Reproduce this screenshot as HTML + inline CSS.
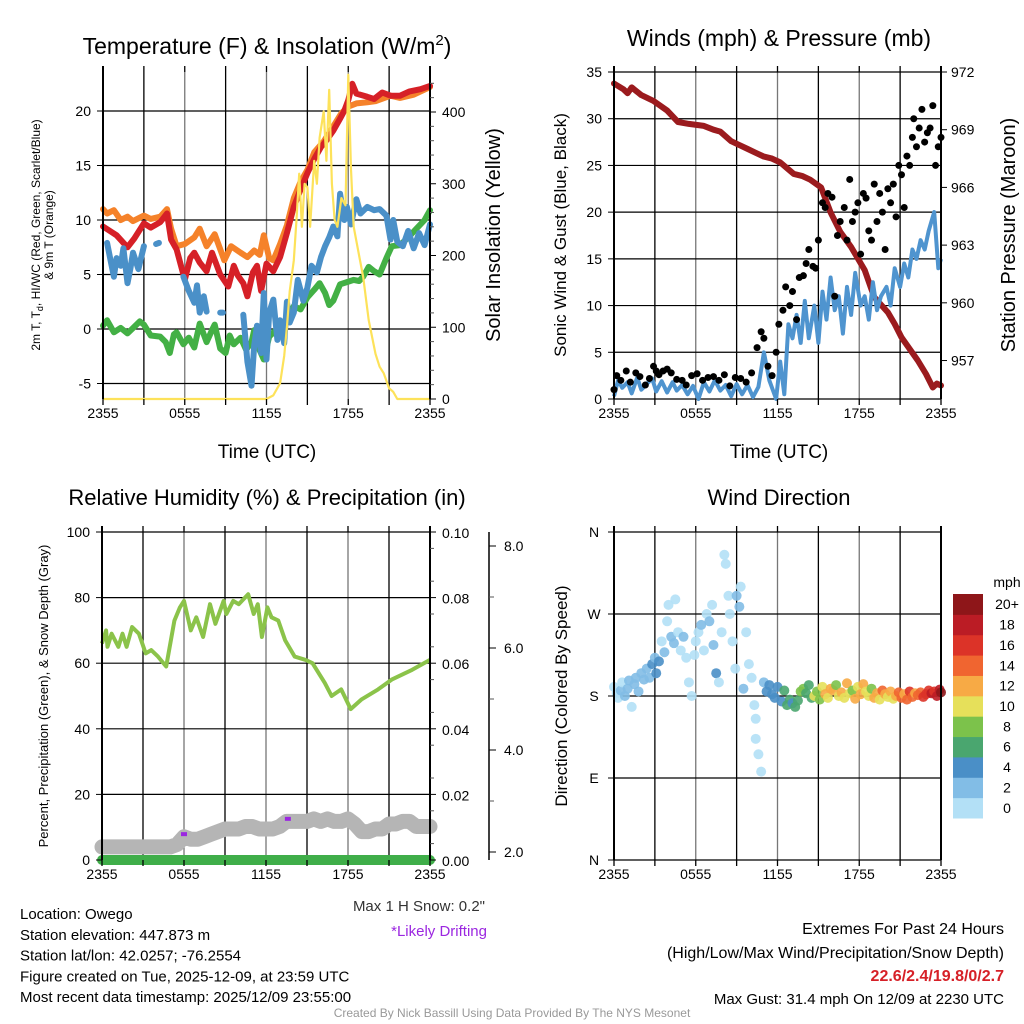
<!DOCTYPE html>
<html><head><meta charset="utf-8"><style>
body{margin:0;background:#fff}
svg{display:block;font-family:"Liberation Sans",Arial,sans-serif}
</style></head><body>
<svg id="c" width="1024" height="1024" viewBox="0 0 1024 1024"></svg>
<script>
// ---------- Panel 1 data (hours since 2355 UTC) ----------
const orangeH=[0,0.3,0.8,1.3,1.8,2.2,3.0,3.5,4.2,4.7,5.0,5.4,6.0,6.7,7.1,7.6,8.2,8.9,9.4,10.1,10.6,11.1,11.5,11.8,12.2,12.5,13.0,13.5,14.0,14.5,15.0,15.5,16.2,16.9,17.5,18.0,18.6,19.4,20.0,21.1,21.8,22.8,24];
const orangeV=[11,10.6,10.9,10.0,10.3,9.9,10.4,10.1,10.3,11.0,9.2,7.6,7.8,8.4,9.2,7.6,8.7,6.3,7.6,7.0,6.6,7.2,6.8,8.6,6.5,6.3,7.8,9.5,12.0,13.5,14.6,16.2,17.2,18.6,19.8,20.4,20.7,20.8,20.9,21.4,21.2,21.5,22.2];
const redH=[0,0.5,1.0,1.8,2.3,3.0,3.5,4.2,4.7,5.0,5.4,6.0,6.4,6.7,7.1,7.6,8.0,8.6,9.2,9.6,9.9,10.3,10.6,11.0,11.3,11.6,12.0,12.5,13.0,13.5,14.0,14.5,15.0,15.5,16.0,16.4,16.9,17.4,17.7,18.0,18.3,18.6,19.4,19.9,20.5,21.1,21.8,22.5,23.3,24];
const redV=[9.4,9.0,8.6,7.5,8.3,9.7,9.3,9.8,10.6,8.2,7.3,4.5,6.5,7.0,6.1,5.3,7.0,5.0,3.9,5.8,4.9,4.2,3.0,5.2,5.8,3.5,6.0,5.3,6.6,8.8,11.2,12.8,14.3,15.6,16.7,17.3,18.2,19.3,20.0,21.0,22.5,21.6,21.3,21.1,21.7,21.4,21.4,21.8,22.0,22.3];
const blueH=[0.3,0.6,0.8,1.0,1.3,1.5,1.8,2.0,2.2,2.6,3.0,null,3.9,4.1,null,5.9,6.3,6.7,6.9,7.1,7.4,7.6,null,8.6,8.8,null,10.3,10.6,10.9,11.1,11.3,11.6,11.8,12.0,12.2,12.5,12.8,13.0,13.3,13.5,13.7,14.0,14.3,14.7,15.0,15.3,15.7,16.0,16.3,16.6,16.9,17.2,17.4,17.7,17.9,18.2,18.6,18.9,19.4,19.9,20.3,20.8,21.1,21.3,21.6,22.0,22.4,22.8,23.2,23.6,24];
const blueV=[7.9,6.0,4.8,6.5,5.8,7.4,4.2,5.5,7.0,5.5,7.6,null,7.8,7.9,null,4.8,3.5,2.4,4.0,1.5,3.0,1.6,null,1.5,1.5,null,1.3,-3.0,-5.2,-1.5,0.3,-2.2,3.3,-2.8,1.5,2.7,-1.0,0.8,-1.3,2.5,0.6,1.5,4.5,2.6,3.8,5.8,5.2,6.6,7.6,8.4,9.4,8.5,12.4,10.0,11.2,9.6,11.9,10.6,11.2,10.9,11.0,10.4,8.2,10.0,8.0,7.6,9.0,7.4,8.8,7.7,9.6];
const greenH=[0,0.3,0.8,1.3,1.8,2.3,2.7,3.0,3.5,4.2,4.6,4.9,5.2,5.4,5.9,6.3,6.7,7.1,7.6,8.0,8.2,8.6,9.0,9.3,9.6,10.1,10.5,10.9,11.1,11.3,11.8,12.2,12.6,13.0,13.5,14.0,14.5,15.0,15.5,15.9,16.3,16.6,16.9,17.4,17.9,18.4,18.8,19.1,19.5,19.9,20.3,20.8,21.2,21.8,22.4,23.0,23.6,24];
const greenV=[0.3,0.8,-0.3,0.1,-0.4,0.2,0.7,0.4,-0.6,-0.7,-1.2,-2.2,-0.5,-0.3,-1.4,-0.8,-1.7,0.5,-1.2,-0.1,0.4,-1.8,-2.2,-0.6,-1.4,-0.8,-1.9,-1.2,-0.1,-1.4,-2.8,-0.7,-0.2,0.2,0.9,2.1,1.8,2.9,3.6,4.2,3.3,2.2,2.6,4.1,4.3,4.5,4.4,4.8,5.7,5.3,5.0,6.5,7.6,7.7,8.4,9.2,10.0,10.9];
const insolH=[0,12.0,12.5,13.0,13.3,13.5,13.7,14.0,14.2,14.4,14.6,14.8,15.0,15.2,15.5,15.7,15.9,16.2,16.4,16.6,16.8,17.0,17.2,17.5,17.8,18.0,18.2,18.4,18.8,19.1,19.5,20.0,20.3,20.6,21.0,21.3,21.6,24];
const insolV=[0,0,5,22,60,100,150,193,250,314,240,300,295,240,332,300,364,401,332,431,300,250,240,280,270,452,320,240,200,170,110,63,45,36,15,10,0,0];
// ---------- Panel 2 data ----------
const presH=[0,0.7,1.0,1.3,2.0,2.9,3.9,4.7,5.5,6.6,7.3,7.8,8.6,9.2,9.8,10.4,11.0,11.6,12.2,12.7,13.2,13.8,14.4,15.2,15.9,16.6,17.4,18.4,19.1,19.6,20.1,20.6,21.1,21.7,22.3,22.9,23.4,23.7,24];
const presV=[971.4,971.1,970.9,971.2,970.8,970.5,970.0,969.4,969.3,969.2,969.0,968.9,968.4,968.2,968.0,967.8,967.6,967.5,967.3,967.0,966.7,966.6,966.4,966.0,964.7,963.7,962.9,961.7,960.3,959.9,959.5,958.9,958.2,957.6,957.0,956.3,955.6,955.8,955.7];
const windH=[0,0.3,0.6,1.0,1.3,1.7,2.0,2.4,2.8,3.1,3.5,3.9,4.3,4.6,5.0,5.4,5.8,6.2,6.6,7.0,7.4,7.8,8.2,8.6,9.0,9.4,9.8,10.2,10.6,11.0,11.4,11.9,12.2,12.5,12.8,13.1,13.4,13.7,14.0,14.3,14.7,15.0,15.3,15.6,15.9,16.2,16.5,16.8,17.1,17.4,17.7,18.1,18.4,18.7,19.0,19.3,19.6,20.0,20.3,20.6,21.0,21.3,21.6,21.9,22.2,22.5,22.8,23.1,23.5,23.8,24];
const windV=[0.3,2.0,1.2,1.8,0.6,2.3,1.0,1.6,2.2,0.8,1.9,0.7,1.8,0.9,1.5,0.5,1.4,0.0,1.8,0.8,2.0,0.9,1.5,0.3,1.6,0.5,1.5,0.2,1.3,5.0,2.0,0.0,4.0,0.5,8.0,6.5,9.0,6.0,10.5,6.5,10.0,6.0,11.5,8.5,13.0,9.5,11.0,7.0,12.0,9.0,13.5,10.0,11.0,8.5,12.5,9.5,11.0,12.0,10.0,14.0,12.0,14.5,13.0,16.0,15.0,17.0,16.0,18.0,20.0,14.0,15.0];
const gustH=[0,0.2,0.5,0.9,1.2,1.6,1.9,2.3,2.6,2.9,3.1,3.3,3.6,3.9,4.2,4.6,5.0,5.3,5.7,6.1,6.5,6.9,7.3,7.7,8.1,8.5,8.9,9.3,9.7,10.1,10.5,10.8,11.0,11.3,11.6,11.9,12.1,12.4,12.6,12.9,13.1,13.4,13.6,13.9,14.1,14.3,14.6,14.8,15.0,15.3,15.5,15.7,16.0,16.2,16.4,16.6,16.9,17.1,17.3,17.5,17.7,17.9,18.1,18.3,18.5,18.7,18.9,19.1,19.3,19.5,19.7,19.9,20.1,20.3,20.5,20.7,20.9,21.1,21.3,21.5,21.7,21.9,22.0,22.2,22.4,22.6,22.8,23.0,23.2,23.4,23.6,23.8,24];
const gustV=[1.0,2.5,2.0,3.0,1.8,2.8,2.4,1.5,2.2,3.5,3.0,2.6,3.0,3.2,2.8,2.1,2.0,1.5,2.5,2.7,2.0,2.3,2.4,2.0,2.6,1.4,2.3,2.2,1.8,2.8,5.5,7.2,6.5,3.5,2.5,5.0,8.0,9.5,12.0,10.0,11.5,8.5,13.0,13.2,14.5,16.0,14.2,14.0,17.0,21.0,20.5,22.0,21.6,11.0,17.5,19.0,20.5,17.0,23.5,19.0,20.0,21.0,15.5,22.0,21.5,18.0,17.0,23.0,19.0,22.0,20.0,16.0,22.5,21.0,23.0,19.5,25.0,24.0,20.5,26.0,25.0,28.0,30.0,27.0,29.0,31.0,27.5,28.5,29.0,31.4,25.0,27.0,28.0];
// ---------- Panel 3 data ----------
const rhH=[0,0.3,0.4,0.7,1.2,1.5,1.8,2.2,2.7,3.2,3.6,4.1,4.7,5.3,5.7,6.0,6.5,6.9,7.4,7.9,8.3,8.9,9.1,9.6,10.0,10.7,11.1,11.4,11.7,12.1,12.4,12.9,13.4,14.1,14.9,15.4,16.3,16.8,17.5,18.2,19.0,20.2,21.2,22.7,24];
const rhV=[66,70,65,69,65,69,65,71,69,63,64,62,59,73,77,79,70,74,68,78,72,79,75,79,78,81,75,78,68,77,74,73,67,62,61,60,54,50,52,46,49,52,55,58,61];
const snowH=[0,1,2,3,4,5,5.5,6,6.5,7,7.5,8,8.5,9,9.5,10,10.5,11,11.5,12,12.5,13,13.5,14,14.5,15,15.5,16,16.5,17,17.5,18,18.5,19,19.5,20,20.5,21,21.5,22,22.5,23,23.5,24];
const snowV=[2.1,2.1,2.1,2.1,2.1,2.1,2.15,2.3,2.25,2.25,2.3,2.35,2.4,2.45,2.45,2.45,2.5,2.5,2.45,2.45,2.45,2.5,2.6,2.6,2.6,2.6,2.65,2.6,2.65,2.6,2.6,2.65,2.55,2.4,2.4,2.45,2.45,2.55,2.55,2.6,2.6,2.5,2.5,2.5];
const driftH=[6.0,13.6];
const driftV=[2.35,2.65];
// ---------- Panel 4 data ----------
const dirH=[0,0.2,0.3,0.5,0.6,0.8,1.0,1.1,1.3,1.5,1.6,1.8,2.0,2.2,2.4,2.6,2.8,3.0,3.1,3.3,3.5,3.7,3.9,4.0,4.2,4.4,4.5,4.7,4.9,5.1,5.3,5.5,5.7,5.9,6.0,6.2,6.4,6.6,6.8,7.0,7.2,7.3,7.5,7.7,7.9,8.1,8.2,8.4,8.5,8.7,8.9,9.0,9.2,9.3,9.5,9.7,9.9,10.1,10.3,10.4,10.4,10.6,10.8,11.0,11.2,11.4,11.6,11.8,12.0,12.3,12.5,12.7,12.9,13.1,13.3,13.5,13.7,13.9,14.1,14.3,14.5,14.7,14.9,15.1,15.3,15.5,15.7,15.9,16.1,16.3,16.5,16.7,16.9,17.1,17.3,17.5,17.7,17.9,18.1,18.3,18.5,18.7,18.9,19.1,19.3,19.5,19.7,19.9,20.1,20.3,20.5,20.7,20.9,21.1,21.3,21.5,21.7,21.9,22.1,22.3,22.5,22.7,22.9,23.1,23.3,23.5,23.7,23.9,24];
const dirV=[190,183,178,186,195,180,188,197,168,193,200,185,205,198,210,200,215,222,205,218,240,228,262,280,245,238,286,250,230,245,222,195,180,225,240,250,258,230,270,262,280,236,205,195,250,335,325,290,270,240,210,290,278,300,188,250,215,200,170,155,133,116,97,195,185,192,182,178,190,174,186,170,176,172,168,175,185,188,183,192,178,180,185,176,190,182,178,188,186,192,180,184,178,194,183,186,177,190,182,193,185,180,188,178,183,176,186,182,179,185,177,180,184,178,182,176,185,179,183,181,184,179,182,186,183,185,180,187,184];
const dirS=[1,1,1,2,1,3,2,3,1,2,3,2,2,3,3,2,4,3,4,4,1,2,1,1,2,3,0,1,1,2,1,1,0,1,0,1,2,0,1,2,0,3,4,1,0,0,0,1,1,0,1,3,2,0,2,1,0,1,0,1,0,1,0,3,5,4,4,5,4,5,7,7,6,5,7,7,8,8,7,6,7,10,8,9,11,12,10,13,12,9,11,12,10,13,11,8,12,10,13,12,11,10,9,12,13,11,14,13,10,12,11,13,15,14,12,14,16,15,13,14,15,16,17,16,18,17,18,19,20,19,18];

const NS='http://www.w3.org/2000/svg';
const svg=document.getElementById('c');
function el(tag,attrs,parent){const e=document.createElementNS(NS,tag);for(const k in attrs)e.setAttribute(k,attrs[k]);(parent||svg).appendChild(e);return e;}
function txt(s,x,y,size,opts,parent){opts=opts||{};const t=el('text',{x:x,y:y,'font-size':size,'text-anchor':opts.anchor||'middle',fill:opts.fill||'#000'},parent);if(opts.bold)t.setAttribute('font-weight','bold');if(opts.rot)t.setAttribute('transform','rotate(-90 '+x+' '+y+')');t.textContent=s;return t;}
function sx(p,h){return p.x0+h/24*(p.x1-p.x0);}
function lin(v,a,b,y0,y1){return y0+(v-a)/(b-a)*(y1-y0);}
function pathFrom(p,H,V,yf){let d='',pen=false;for(let i=0;i<H.length;i++){if(H[i]===null){pen=false;continue;}const X=sx(p,H[i]),Y=yf(V[i]);d+=(pen?'L':'M')+X.toFixed(1)+' '+Y.toFixed(1);pen=true;}return d;}
function grid(p,g,yTicks,yf){
  for(let h=3;h<24;h+=3){el('line',{x1:sx(p,h),x2:sx(p,h),y1:p.y0,y2:p.y1,stroke:(h%6?'#000':'#777'),'stroke-width':1.3},g);}
  yTicks.forEach(v=>{const y=yf(v);el('line',{x1:p.x0,x2:p.x1,y1:y,y2:y,stroke:'#000','stroke-width':1.2},g);});
}
function frame(p,g){
  el('line',{x1:p.x0,x2:p.x0,y1:p.y0-6,y2:p.y1,stroke:'#000','stroke-width':2},g);
  el('line',{x1:p.x1,x2:p.x1,y1:p.y0-6,y2:p.y1,stroke:'#000','stroke-width':2},g);
  for(let h=0;h<=24;h+=3){el('line',{x1:sx(p,h),x2:sx(p,h),y1:p.y0-6,y2:p.y0,stroke:'#000','stroke-width':1.3},g);el('line',{x1:sx(p,h),x2:sx(p,h),y1:p.y1,y2:p.y1+6,stroke:'#000','stroke-width':1.3},g);}
  ['2355','0555','1155','1755','2355'].forEach((s,i)=>{const t=txt(s,sx(p,i*6),p.y1+19,14,{},g);});
}

// ================= Panel 1 =================
const p1={x0:103,x1:430,y0:72,y1:399};
const g1=el('g',{});
const tY=v=>lin(v,0,20,329,111), iY=v=>lin(v,0,400,399,112);
const t1Ticks=[-5,0,5,10,15,20];
grid(p1,g1,t1Ticks,tY);
[[orangeH,orangeV,'#f5822a'],[redH,redV,'#d62027'],[greenH,greenV,'#43b045'],[blueH,blueV,'#4a90c8']].forEach((s,i)=>{
  const pa=el('path',{d:pathFrom(p1,s[0],s[1],tY),fill:'none',stroke:s[2],'stroke-width':6,'stroke-linejoin':'round','stroke-linecap':'round'},g1);
  
  
});
const ins=el('path',{d:pathFrom(p1,insolH,insolV,iY),fill:'none',stroke:'#fde25a','stroke-width':2.2,'stroke-linejoin':'round'},g1);


frame(p1,g1);
t1Ticks.forEach(v=>{el('line',{x1:p1.x0-6,x2:p1.x0,y1:tY(v),y2:tY(v),stroke:'#000'},g1);txt(String(v),p1.x0-12,tY(v)+5,14,{anchor:'end'},g1);});
[0,100,200,300,400].forEach(v=>{el('line',{x1:p1.x1,x2:p1.x1+6,y1:iY(v),y2:iY(v),stroke:'#000'},g1);txt(String(v),p1.x1+12,iY(v)+5,14,{anchor:'start'},g1);});
for(let v=20;v<=440;v+=20){if(v%100)el('line',{x1:p1.x1,x2:p1.x1+4,y1:iY(v),y2:iY(v),stroke:'#555'},g1);}
const tt1=el('text',{x:267,y:54,'font-size':23,'text-anchor':'middle'},g1);tt1.innerHTML='Temperature (F) &amp; Insolation (W/m<tspan dy="-9" font-size="15">2</tspan><tspan dy="9">)</tspan>';
txt('Time (UTC)',267,458,19,{},g1);
const yl1=el('text',{x:40,y:235,'font-size':12,'text-anchor':'middle',transform:'rotate(-90 40 235)'},g1);yl1.innerHTML='2m T, T<tspan dy="3" font-size="9">d</tspan><tspan dy="-3">, HI/WC (Red, Green, Scarlet/Blue)</tspan>';
txt('& 9m T (Orange)',53,235,12,{rot:1},g1);
txt('Solar Insolation (Yellow)',500,235,20,{rot:1},g1);

// ================= Panel 2 =================
const p2={x0:614,x1:941,y0:72,y1:399};
const g2=el('g',{});
const wY=v=>lin(v,0,35,399,72), pY=v=>lin(v,955,972,399,72);
const w2Ticks=[0,5,10,15,20,25,30,35];
grid(p2,g2,w2Ticks,wY);
const pr=el('path',{d:pathFrom(p2,presH,presV,pY),fill:'none',stroke:'#9b1b1e','stroke-width':6,'stroke-linejoin':'round','stroke-linecap':'round'},g2);


const wl=el('path',{d:pathFrom(p2,windH,windV,wY),fill:'none',stroke:'#4f94cf','stroke-width':4,'stroke-linejoin':'round'},g2);


gustH.forEach((h,i)=>{const c=el('circle',{cx:sx(p2,h),cy:wY(gustV[i]),r:3.5,fill:'#000'},g2);
  
  });
frame(p2,g2);
w2Ticks.forEach(v=>{el('line',{x1:p2.x0-6,x2:p2.x0,y1:wY(v),y2:wY(v),stroke:'#000'},g2);txt(String(v),p2.x0-12,wY(v)+5,14,{anchor:'end'},g2);});
[957,960,963,966,969,972].forEach(v=>{el('line',{x1:p2.x1,x2:p2.x1+6,y1:pY(v),y2:pY(v),stroke:'#000'},g2);txt(String(v),p2.x1+10,pY(v)+5,14,{anchor:'start'},g2);});
txt('Winds (mph) & Pressure (mb)',779,46,23,{},g2);
txt('Time (UTC)',779,458,19,{},g2);
txt('Sonic Wind & Gust (Blue, Black)',566,235,17,{rot:1},g2);
txt('Station Pressure (Maroon)',1015,235,20,{rot:1},g2);

// ================= Panel 3 =================
const p3={x0:102,x1:430,y0:532,y1:860};
const g3=el('g',{});
const rY=v=>lin(v,0,100,860,532), sY=v=>lin(v,2,8,852,546);
const r3Ticks=[0,20,40,60,80,100];
grid(p3,g3,r3Ticks,rY);
const sn=el('path',{d:pathFrom(p3,snowH,snowV,sY),fill:'none',stroke:'#b5b5b5','stroke-width':15,'stroke-linejoin':'round','stroke-linecap':'round'},g3);


driftH.forEach((h,i)=>{const r=el('rect',{x:sx(p3,h)-3,y:sY(driftV[i])-2,width:6,height:4,fill:'#9b27e0'},g3);
  
  });
const pc=el('line',{x1:p3.x0,x2:p3.x1,y1:860,y2:860,stroke:'#3fae49','stroke-width':10,'stroke-linecap':'round'},g3);


const rh=el('path',{d:pathFrom(p3,rhH,rhV,rY),fill:'none',stroke:'#8bc34a','stroke-width':4,'stroke-linejoin':'round'},g3);


frame(p3,g3);
r3Ticks.forEach(v=>{el('line',{x1:p3.x0-6,x2:p3.x0,y1:rY(v),y2:rY(v),stroke:'#000'},g3);txt(String(v),p3.x0-12,rY(v)+5,14,{anchor:'end'},g3);});
['0.00','0.02','0.04','0.06','0.08','0.10'].forEach((s,i)=>{const y=rY(i*20);el('line',{x1:p3.x1,x2:p3.x1+6,y1:y,y2:y,stroke:'#000'},g3);txt(s,p3.x1+12,y+6,14,{anchor:'start'},g3);});
for(let v=5;v<100;v+=10)el('line',{x1:p3.x1,x2:p3.x1+4,y1:rY(v),y2:rY(v),stroke:'#555'},g3);
el('line',{x1:489,x2:489,y1:532,y2:860,stroke:'#000','stroke-width':1.5},g3);
['2.0','4.0','6.0','8.0'].forEach((s,i)=>{const y=sY(2+i*2);el('line',{x1:489,x2:496,y1:y,y2:y,stroke:'#000'},g3);txt(s,504,y+5,14,{anchor:'start'},g3);});
for(let v=3;v<9;v+=2)el('line',{x1:489,x2:494,y1:sY(v),y2:sY(v),stroke:'#555'},g3);
txt('Relative Humidity (%) & Precipitation (in)',267,505,22,{},g3);
txt('Percent, Precipitation (Green), & Snow Depth (Gray)',48,696,13,{rot:1},g3);

// ================= Panel 4 =================
const p4={x0:614,x1:941,y0:532,y1:860};
const g4=el('g',{});
const dY=v=>lin(v,0,360,860,532);
const d4Ticks=[0,90,180,270,360];
grid(p4,g4,d4Ticks,dY);
const spdColors=['#b3e0f6','#82bde6','#4a8fc7','#4aa66f','#7cc24b','#e6e05a','#f7aa45','#f06530','#dc3328','#bb1c25','#8e1619'];
dirH.forEach((h,i)=>{const bin=Math.min(10,Math.floor(dirS[i]/2));const c=el('circle',{cx:sx(p4,h),cy:dY(dirV[i]),r:5,fill:spdColors[bin],'fill-opacity':0.9},g4);
  
  });
frame(p4,g4);
['N','E','S','W','N'].forEach((s,i)=>{const y=dY(i*90);el('line',{x1:p4.x0-6,x2:p4.x0,y1:y,y2:y,stroke:'#000'},g4);txt(s,p4.x0-20,y+5,14,{anchor:'middle'},g4);});
txt('Wind Direction',779,505,22,{},g4);
txt('Direction (Colored By Speed)',567,696,17,{rot:1},g4);
const cb=el('g',{},g4);
const cbLabels=['0','2','4','6','8','10','12','14','16','18','20+'];
const cbTop=594,cbBot=818,cbH=(cbBot-cbTop)/11;
spdColors.forEach((c,i)=>{const y=cbBot-(i+1)*cbH;el('rect',{x:953,y:y,width:30,height:cbH+0.5,fill:c},cb);txt(cbLabels[i],1007,y+cbH/2+5,14,{anchor:'middle'},cb);});
txt('mph',1007,587,14,{},cb);

// ================= Footer text =================
const ft=el('g',{});
['Location: Owego','Station elevation: 447.873 m','Station lat/lon: 42.0257; -76.2554','Figure created on Tue, 2025-12-09, at 23:59 UTC','Most recent data timestamp: 2025/12/09 23:55:00'].forEach((s,i)=>txt(s,20,919+i*20.8,15,{anchor:'start'},ft));
txt('Max 1 H Snow: 0.2"',485,911,15,{anchor:'end',fill:'#333'},ft);
txt('*Likely Drifting',487,936,15,{anchor:'end',fill:'#9b27e0'},ft);
txt('Extremes For Past 24 Hours',1004,934,16,{anchor:'end'},ft);
txt('(High/Low/Max Wind/Precipitation/Snow Depth)',1004,958,16,{anchor:'end'},ft);
txt('22.6/2.4/19.8/0/2.7',1004,981,16,{anchor:'end',fill:'#d62027',bold:1},ft);
txt('Max Gust: 31.4 mph On 12/09 at 2230 UTC',1004,1004,15,{anchor:'end'},ft);
txt('Created By Nick Bassill Using Data Provided By The NYS Mesonet',512,1017,12,{fill:'#999'},ft);
</script>
</body></html>
